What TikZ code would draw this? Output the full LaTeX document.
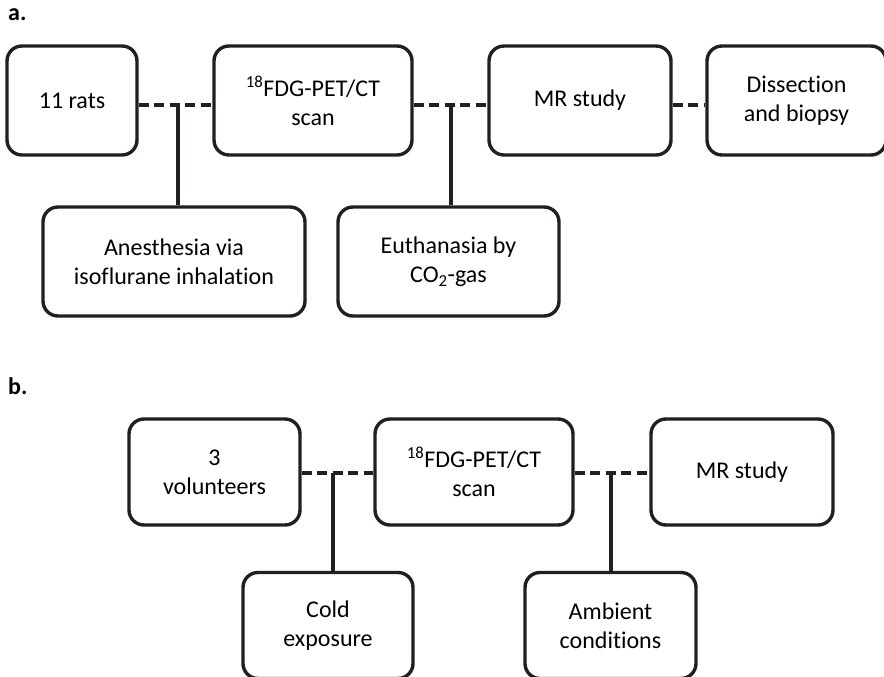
\documentclass[tikz,border=0pt]{standalone}
\usepackage{fontspec}
\setmainfont{Carlito}[RawFeature={-liga;-clig;-calt}]
\definecolor{linec}{RGB}{35,31,32}
\tikzset{box/.style={draw=linec,line width=3.4pt,rounded corners=15pt,align=center,
    inner sep=0pt,font=\fontsize{24}{29}\selectfont},
  link/.style={draw=linec,line width=3.6pt,dash pattern=on 10pt off 5.5pt},
  stem/.style={draw=linec,line width=3.4pt},
  tag/.style={anchor=base west,inner sep=0pt,font=\fontsize{24}{29}\selectfont\bfseries}}

\begin{document}
\begin{tikzpicture}[x=1pt,y=-1pt]
\useasboundingbox (0,0) rectangle (884,677);
% a.
\node[tag] (taga) at (8,21) {a.};
\node[box,minimum width=130pt,minimum height=109pt] (rats) at (72,100.5) {11 rats};
\node[box,minimum width=198pt,minimum height=109pt] (fdgA) at (313,100.5) {\textsuperscript{18}FDG-PET/CT\\scan};
\node[box,minimum width=182pt,minimum height=109pt] (mrA) at (580,100.5) {MR study};
\node[box,minimum width=179pt,minimum height=109pt] (dis) at (796.5,100.5) {Dissection\\and biopsy};
\node[box,minimum width=262pt,minimum height=109pt] (anest) at (174,261.5) {Anesthesia via\\isoflurane inhalation};
\node[box,minimum width=221pt,minimum height=109pt] (euth) at (448.5,261.5) {Euthanasia by\\CO\textsubscript{2}-gas};
\coordinate (ja) at (178,105);
\coordinate (jb) at (451,105);
\draw[link] (rats.east |- ja) -- (fdgA.west |- ja);
\draw[link] (fdgA.east |- jb) -- (mrA.west |- jb);
\draw[link] (mrA.east |- jb) -- (dis.west |- jb);
\draw[stem] (ja) -- (ja |- anest.north);
\draw[stem] (jb) -- (jb |- euth.north);
% b.
\node[tag] (tagb) at (8,394) {b.};
\node[box,minimum width=171pt,minimum height=106pt] (vol) at (214.5,472) {3\\volunteers};
\node[box,minimum width=198pt,minimum height=106pt] (fdgB) at (474,472) {\textsuperscript{18}FDG-PET/CT\\scan};
\node[box,minimum width=182pt,minimum height=106pt] (mrB) at (742,472) {MR study};
\node[box,minimum width=170pt,minimum height=106pt] (cold) at (328,625.5) {Cold\\exposure};
\node[box,minimum width=171pt,minimum height=106pt] (amb) at (610.5,625.5) {Ambient\\conditions};
\coordinate (jc) at (333,473);
\coordinate (jd) at (611,473);
\draw[link] (vol.east |- jc) -- (fdgB.west |- jc);
\draw[link] (fdgB.east |- jd) -- (mrB.west |- jd);
\draw[stem] (jc) -- (jc |- cold.north);
\draw[stem] (jd) -- (jd |- amb.north);
\end{tikzpicture}
\end{document}
